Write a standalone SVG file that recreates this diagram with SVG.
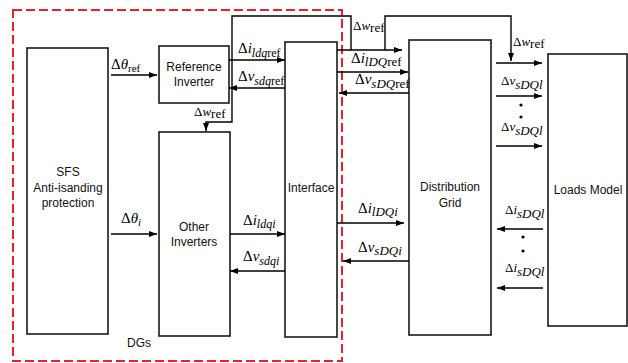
<svg xmlns="http://www.w3.org/2000/svg" width="628" height="363" viewBox="0 0 628 363">
<defs>
<marker id="ah" markerUnits="userSpaceOnUse" markerWidth="9" markerHeight="7" refX="8" refY="3" orient="auto">
<path d="M0,0 L8,3 L0,6 z" fill="#000"/>
</marker>
<style>
.box{fill:none;stroke:#1a1a1a;stroke-width:1.6}
.bt{font-family:"Liberation Sans",Arial,sans-serif;font-size:12px;fill:#111;text-anchor:middle}
.c{fill:none;stroke:#000;stroke-width:1.4}
.a{fill:none;stroke:#000;stroke-width:1.4;marker-end:url(#ah)}
.lb{font-family:"Liberation Serif","Times New Roman",serif;font-size:15px;fill:#000}
.sm{font-family:"Liberation Serif","Times New Roman",serif;font-size:13px;fill:#000}
.it{font-style:italic}
.dash{fill:none;stroke:#e8222a;stroke-width:2;stroke-dasharray:9,4}
</style>
</defs>
<rect class="dash" x="13" y="10" width="329" height="351"/>
<text class="bt" x="127" y="347" style="text-anchor:start">DGs</text>

<g id="sfs">
<rect class="box" x="27" y="48" width="81" height="286"/>
<text class="bt" x="68" y="176">SFS</text>
<text class="bt" x="68" y="192">Anti-isanding</text>
<text class="bt" x="68" y="207">protection</text>
</g>
<g id="refinv">
<rect class="box" x="159" y="46" width="70" height="57"/>
<text class="bt" x="194" y="71">Reference</text>
<text class="bt" x="194" y="86">Inverter</text>
</g>
<g id="otherinv">
<rect class="box" x="159" y="132" width="71" height="204"/>
<text class="bt" x="194" y="231">Other</text>
<text class="bt" x="194" y="246">Inverters</text>
</g>
<g id="interface">
<rect class="box" x="285" y="42" width="52" height="295"/>
<text class="bt" x="311" y="192">Interface</text>
</g>
<g id="grid">
<rect class="box" x="409" y="40" width="82" height="295"/>
<text class="bt" x="450" y="191">Distribution</text>
<text class="bt" x="450" y="207">Grid</text>
</g>
<g id="loads">
<rect class="box" x="548" y="54" width="79" height="272"/>
<text class="bt" x="588" y="194">Loads Model</text>
</g>

<g id="connectors">
<line class="a" x1="111" y1="75" x2="157" y2="75"/>
<line class="a" x1="111" y1="234" x2="157" y2="234"/>
<line class="a" x1="229" y1="60" x2="285" y2="60"/>
<line class="a" x1="285" y1="88" x2="229" y2="88"/>
<polyline class="a" points="351,50 351,16 232,16 232,122 206,122 206,131"/>
<line class="a" x1="230" y1="234" x2="285" y2="234"/>
<line class="a" x1="285" y1="271" x2="230" y2="271"/>
<line class="a" x1="337" y1="50" x2="402" y2="50"/>
<polyline class="a" points="385,50 385,16 511,16 511,61"/>
<line class="a" x1="337" y1="72" x2="408" y2="72"/>
<line class="a" x1="409" y1="93" x2="339" y2="93"/>
<line class="a" x1="337" y1="223" x2="404" y2="223"/>
<line class="a" x1="409" y1="261" x2="343" y2="261"/>
<line class="a" x1="496" y1="63" x2="542" y2="63"/>
<line class="a" x1="496" y1="96" x2="542" y2="96"/>
<line class="a" x1="496" y1="146" x2="542" y2="146"/>
<line class="a" x1="543" y1="229" x2="497" y2="229"/>
<line class="a" x1="543" y1="288" x2="497" y2="288"/>
<circle cx="521" cy="105" r="1.6" fill="#000"/>
<circle cx="521" cy="117" r="1.6" fill="#000"/>
<circle cx="523" cy="237" r="1.6" fill="#000"/>
<circle cx="523" cy="251" r="1.6" fill="#000"/>
</g>

<g id="labels">
<text class="lb" x="111" y="69">Δ<tspan class="it">θ</tspan><tspan font-size="11" dy="3">ref</tspan></text>
<text class="lb" x="121" y="223">Δ<tspan class="it">θ</tspan><tspan class="it" font-size="11" dy="3">i</tspan></text>
<text class="lb" x="238" y="53">Δ<tspan class="it">i</tspan><tspan font-size="12" dy="4"><tspan class="it">ldq</tspan>ref</tspan></text>
<text class="lb" x="238" y="81">Δ<tspan class="it">v</tspan><tspan font-size="12" dy="4"><tspan class="it">sdq</tspan>ref</tspan></text>
<text class="sm" x="194" y="116">Δ<tspan class="it">w</tspan><tspan dy="2">ref</tspan></text>
<text class="sm" x="353" y="30">Δ<tspan class="it">w</tspan><tspan dy="2">ref</tspan></text>
<text class="lb" x="351" y="63">Δ<tspan class="it">i</tspan><tspan font-size="13" dy="3"><tspan class="it">lDQ</tspan>ref</tspan></text>
<text class="lb" x="355" y="84">Δ<tspan class="it">v</tspan><tspan font-size="13" dy="4"><tspan class="it">sDQ</tspan>ref</tspan></text>
<text class="lb" x="243" y="225">Δ<tspan class="it">i</tspan><tspan class="it" font-size="12" dy="3">ldqi</tspan></text>
<text class="lb" x="243" y="261">Δ<tspan class="it">v</tspan><tspan class="it" font-size="12" dy="4">sdqi</tspan></text>
<text class="lb" x="358" y="213">Δ<tspan class="it">i</tspan><tspan class="it" font-size="13" dy="3">lDQi</tspan></text>
<text class="lb" x="358" y="252">Δ<tspan class="it">v</tspan><tspan class="it" font-size="13" dy="3">sDQi</tspan></text>
<text class="sm" x="513" y="46">Δ<tspan class="it">w</tspan><tspan dy="2">ref</tspan></text>
<text class="sm" x="501" y="85" font-size="11">Δ<tspan class="it">v</tspan><tspan class="it" font-size="13" dy="4">sDQl</tspan></text>
<text class="sm" x="501" y="131" font-size="11">Δ<tspan class="it">v</tspan><tspan class="it" font-size="13" dy="4">sDQl</tspan></text>
<text class="sm" x="505" y="214" font-size="11">Δ<tspan class="it">i</tspan><tspan class="it" font-size="13" dy="4">sDQl</tspan></text>
<text class="sm" x="505" y="272" font-size="11">Δ<tspan class="it">i</tspan><tspan class="it" font-size="13" dy="4">sDQl</tspan></text>
</g>
</svg>
